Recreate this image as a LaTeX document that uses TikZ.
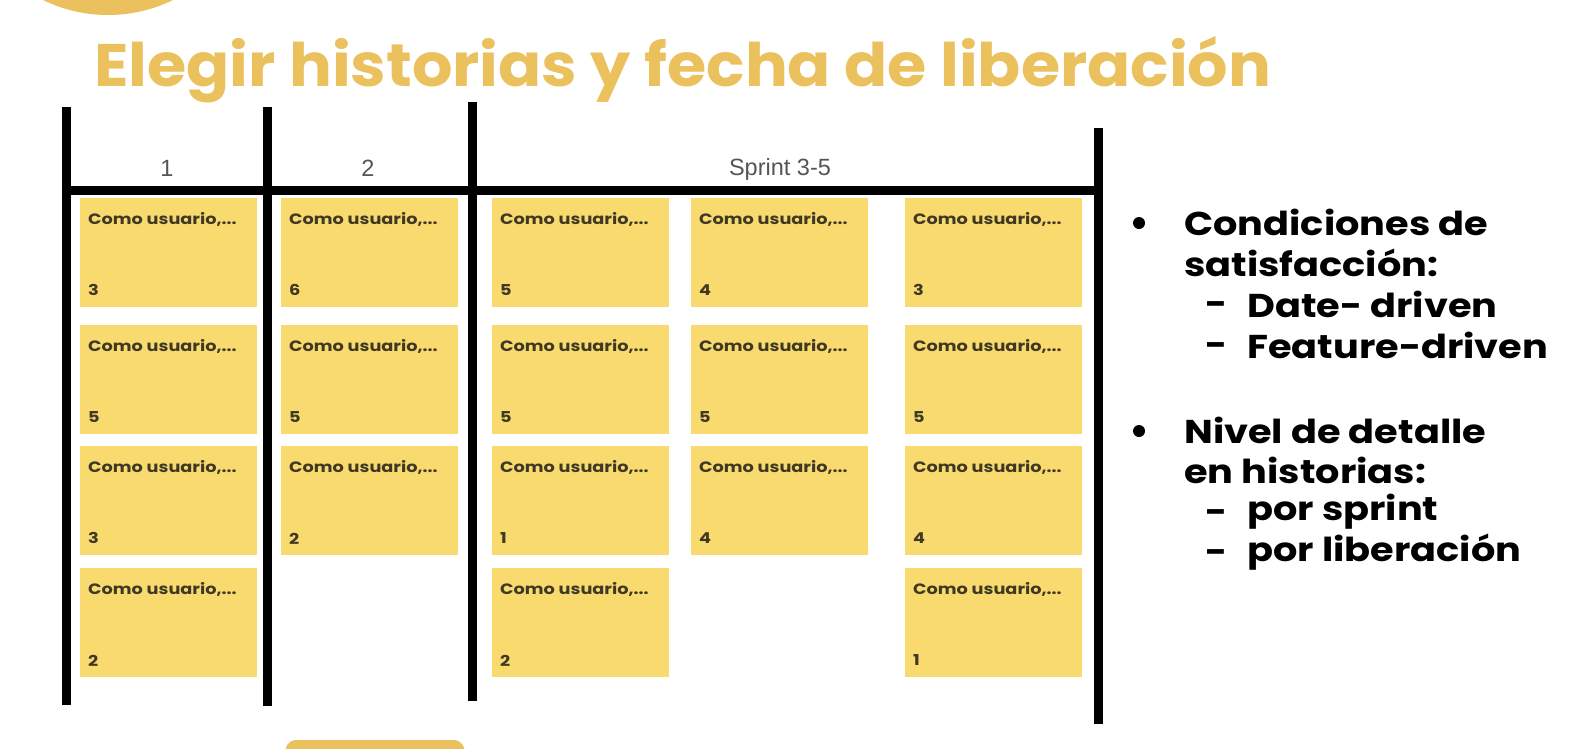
\documentclass[tikz,border=0pt]{standalone}
\usepackage{fontspec}
\setmainfont{Poppins}
\newfontfamily\hdrfont{Liberation Sans}
\newfontfamily\titlefont[FakeStretch=1.06]{Poppins}
\newfontfamily\sidefont[FakeStretch=1.16]{Poppins}
\newfontfamily\cardfont[FakeStretch=1.18]{Poppins}
\usetikzlibrary{calc}
\definecolor{gold}{HTML}{EBC15E}
\definecolor{stickyfill}{HTML}{F9DA6E}
\definecolor{stickytext}{HTML}{3F3822}
\definecolor{hdrgray}{HTML}{555555}
\tikzset{
  board/.style={line width=9pt, black},
  stickybox/.style={rectangle, fill=stickyfill, draw=none, minimum width=177pt, minimum height=109pt, anchor=north west, inner sep=0pt},
  storytxt/.style={anchor=west, inner sep=0pt, text=stickytext, font=\cardfont\fontsize{15}{17}\selectfont\bfseries},
  hdr/.style={text=hdrgray, font=\hdrfont\fontsize{23.5}{27}\selectfont, inner sep=0pt},
  side/.style={anchor=west, inner sep=0pt, text=black, font=\sidefont\fontsize{33}{38}\selectfont\bfseries},
  dashmark/.style={side, yshift=-5pt},
  bulletdot/.style={circle, fill=black, minimum size=12pt, inner sep=0pt}
}
\newcommand\storycard[4]{%
  \node[stickybox] (#1) at (#2,#3) {};
  \node[storytxt] (#1t) at ($(#1.north west)+(8,21)$) {Como usuario,...};
  \node[storytxt] (#1n) at ($(#1.south west)+(8,-17)$) {#4};
}
\begin{document}
\begin{tikzpicture}[x=1pt,y=-1pt]
\useasboundingbox (0,0) rectangle (1573,748);
\fill[white] (0,0) rectangle (1573,748);
% decorative shapes
\begin{scope}
\clip (0,0) rectangle (1573,748);
\fill[gold] (108,-133) circle (148);
\fill[gold, rounded corners=8pt] (288,740) -- (462,740) -- (470,770) -- (280,770) -- cycle;
\end{scope}
% title
\node[anchor=west, inner sep=0pt, text=gold, font=\titlefont\fontsize{60}{70}\selectfont\bfseries] (title) at (94,70) {Elegir historias y fecha de liberación};
% board lines
\draw[board] (66,107) -- (66,705);
\draw[board] (267,107) -- (267,706);
\draw[board] (472,102) -- (472,701);
\draw[board] (1098,128) -- (1098,724);
\draw[board] (62,190) -- (1102,190);
% headers
\node[hdr] (h1) at (167,168) {1};
\node[hdr] (h2) at (368,168) {2};
\node[hdr] (h3) at (780,169) {Sprint 3-5};
% stickies column 1
\storycard{a1}{80}{198}{3}
\storycard{a2}{80}{325}{5}
\storycard{a3}{80}{446}{3}
\storycard{a4}{80}{568}{2}
% column 2
\storycard{b1}{281}{198}{6}
\storycard{b2}{281}{325}{5}
\storycard{b3}{281}{446}{2}
% column 3
\storycard{c1}{492}{198}{5}
\storycard{c2}{492}{325}{5}
\storycard{c3}{492}{446}{1}
\storycard{c4}{492}{568}{2}
% column 4
\storycard{d1}{691}{198}{4}
\storycard{d2}{691}{325}{5}
\storycard{d3}{691}{446}{4}
% column 5
\storycard{e1}{905}{198}{3}
\storycard{e2}{905}{325}{5}
\storycard{e3}{905}{446}{4}
\storycard{e4}{905}{568}{1}
% side text
\node[bulletdot] (bul1) at (1139,223) {};
\node[side] (t1) at (1184,222) {Condiciones de};
\node[side] (t2) at (1184,263) {satisfacción:};
\node[dashmark] (t3a) at (1205,304) {-};
\node[side] (t3) at (1247,304) {Date- driven};
\node[dashmark] (t4a) at (1205,345) {-};
\node[side] (t4) at (1247,345) {Feature-driven};
\node[bulletdot] (bul2) at (1139,431) {};
\node[side] (t5) at (1184,430) {Nivel de detalle};
\node[side] (t6) at (1184,470) {en historias:};
\node[dashmark] (t7a) at (1205,512) {-};
\node[side] (t7) at (1247,512) {por sprint};
\node[dashmark] (t8a) at (1205,552) {-};
\node[side] (t8) at (1247,552) {por liberación};
\end{tikzpicture}
\end{document}
